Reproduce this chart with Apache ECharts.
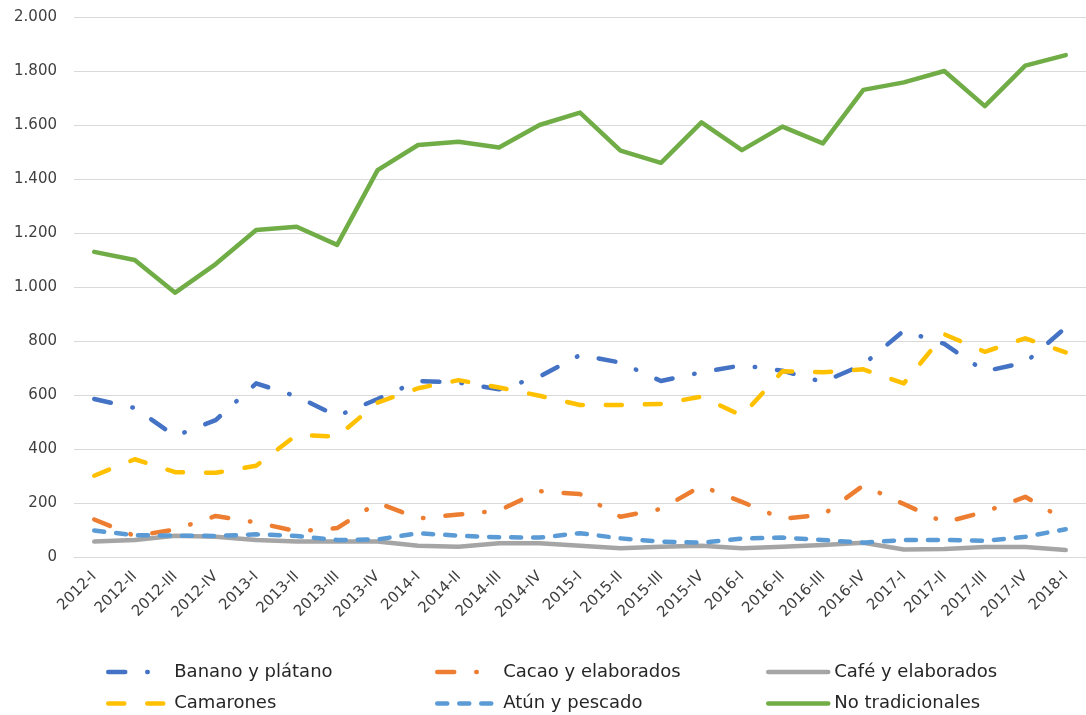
<!DOCTYPE html>
<html>
<head>
<meta charset="utf-8">
<script src="https://cdn.jsdelivr.net/npm/echarts@6/dist/echarts.min.js"></script>
<style>
html,body{margin:0;padding:0;background:#fff;}
#chart{width:1086px;height:715px;}
</style>
</head>
<body>
<div id="chart"></div>
<script>
var categories = ["2012-I","2012-II","2012-III","2012-IV","2013-I","2013-II","2013-III","2013-IV",
  "2014-I","2014-II","2014-III","2014-IV","2015-I","2015-II","2015-III","2015-IV",
  "2016-I","2016-II","2016-III","2016-IV","2017-I","2017-II","2017-III","2017-IV","2018-I"];

var banano = [585, 552, 448, 507, 643, 595, 522, 585, 652, 646, 621, 668, 748, 720, 652, 684, 710, 690, 648, 713, 838, 789, 688, 720, 850];
var cacao = [139, 78, 102, 152, 128, 95, 107, 201, 143, 157, 172, 244, 233, 149, 178, 263, 204, 142, 156, 265, 196, 128, 167, 223, 135];
var cafe = [57, 63, 79, 75, 63, 57, 57, 57, 42, 38, 51, 51, 42, 32, 38, 42, 32, 38, 44, 53, 28, 30, 37, 37, 26];
var camarones = [301, 362, 314, 312, 338, 452, 446, 572, 625, 655, 628, 597, 563, 563, 567, 594, 523, 688, 684, 695, 643, 825, 760, 810, 758];
var atun = [98, 81, 79, 78, 84, 78, 63, 65, 88, 79, 73, 72, 88, 69, 57, 53, 68, 72, 63, 53, 63, 63, 60, 75, 103];
var noTradicionales = [1130, 1100, 979, 1085, 1211, 1223, 1156, 1433, 1526, 1538, 1517, 1600, 1646, 1505, 1460, 1610, 1507, 1594, 1532, 1730, 1758, 1800, 1670, 1820, 1859];

var names = ["Banano y plátano","Cacao y elaborados","Café y elaborados","Camarones","Atún y pescado","No tradicionales"];

var FONT = "DejaVu Sans";
var LW = 4.5;

function mkSeries(name, data, color, dash) {
  return {
    name: name, type: 'line', data: data, symbol: 'none',
    lineStyle: { color: color, width: LW, type: dash, cap: 'round', join: 'round' },
    itemStyle: { color: color },
    emphasis: { disabled: true }
  };
}

function mkLegend(left, items) {
  return {
    orient: 'vertical', left: left, top: 662, padding: 0,
    itemWidth: 60, itemHeight: 20, itemGap: 11.5,
    data: items,
    lineStyle: { width: LW },
    itemStyle: { opacity: 0, color: 'rgba(0,0,0,0)', borderWidth: 0 },
    textStyle: { fontFamily: FONT, fontSize: 18, color: '#262626', lineHeight: 20, padding: [0, 0, 0, 1] },
    selectedMode: false
  };
}

var chart = echarts.init(document.getElementById('chart'), null, { renderer: 'canvas' });
chart.setOption({
  animation: false,
  backgroundColor: '#ffffff',
  grid: { left: 74, right: -7, top: 17, bottom: 158, containLabel: false },
  legend: [
    mkLegend(106, [names[0], names[3]]),
    mkLegend(435, [names[1], names[4]]),
    mkLegend(766, [names[2], names[5]])
  ],
  xAxis: {
    type: 'category', data: categories, boundaryGap: true,
    axisLine: { show: true, lineStyle: { color: '#d9d9d9', width: 1 } },
    axisTick: { show: false },
    axisLabel: { interval: 0, rotate: 45, margin: 17, fontFamily: FONT, fontSize: 15, color: '#404040' }
  },
  yAxis: {
    type: 'value', min: 0, max: 2000, interval: 200,
    axisLine: { show: false }, axisTick: { show: false },
    splitLine: { lineStyle: { color: '#d9d9d9', width: 1 } },
    axisLabel: {
      margin: 17, fontFamily: FONT, fontSize: 15, color: '#404040',
      formatter: function (v) { return String(v).replace(/\B(?=(\d{3})+(?!\d))/g, '.'); }
    }
  },
  series: [
    mkSeries(names[0], banano, '#4472C4', [17, 22, 0.5, 22]),
    mkSeries(names[1], cacao, '#ED7D31', [17, 22, 0.5, 22]),
    mkSeries(names[2], cafe, '#A5A5A5', 'solid'),
    mkSeries(names[3], camarones, '#FFC000', [16, 23]),
    mkSeries(names[4], atun, '#5B9BD5', [10, 12]),
    mkSeries(names[5], noTradicionales, '#70AD47', 'solid')
  ]
});
</script>
</body>
</html>
